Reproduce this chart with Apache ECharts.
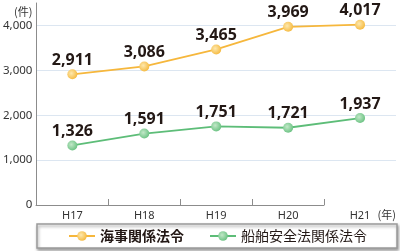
<!DOCTYPE html>
<html>
<head>
<meta charset="utf-8">
<script src="https://cdn.jsdelivr.net/npm/echarts@6/dist/echarts.min.js"></script>
<style>html,body{margin:0;padding:0;background:#fff;}#c{width:400px;height:251px;}</style>
</head>
<body>
<div id="c"></div>
<script>
const categories = ['H17', 'H18', 'H19', 'H20', 'H21'];
const seriesNames = ['海事関係法令', '船舶安全法関係法令'];
const kaijiValues = [2911, 3086, 3465, 3969, 4017];
const senpakuValues = [1326, 1591, 1751, 1721, 1937];
const yTicks = [0, 1000, 2000, 3000, 4000];
const yUnit = '(件)';
const xUnit = '(年)';

const fmt = v => Number(v).toLocaleString('en-US');
const chart = echarts.init(document.getElementById('c'), null, {renderer: 'canvas'});

function grad(inner, outer) {
  return new echarts.graphic.RadialGradient(0.4, 0.4, 0.6, [
    {offset: 0, color: inner}, {offset: 1, color: outer}
  ]);
}

const labelStyle = {
  show: true, position: 'top', distance: 1,
  formatter: p => fmt(p.value),
  fontFamily: 'Noto Sans', fontWeight: 'bold', fontSize: 16, color: '#231815'
};

chart.setOption({
  animation: false,
  backgroundColor: '#fff',
  grid: [
    {left: 36, right: 4, top: 3, bottom: 46},
    {left: 36, right: 76, top: 3, bottom: 46}
  ],
  legend: {
    left: 37, top: 224,
    data: seriesNames,
    itemWidth: 26, itemHeight: 12, itemGap: 25,
    padding: [5, 30, 5, 31],
    borderColor: '#9a9a9a', borderWidth: 1.5,
    backgroundColor: '#fff',
    shadowColor: 'rgba(0,0,0,0.35)', shadowBlur: 3, shadowOffsetX: 1, shadowOffsetY: 2,
    textStyle: {
      fontFamily: 'Noto Sans CJK JP', fontSize: 14, color: '#231815',
      rich: {b: {fontFamily: 'Noto Sans CJK JP', fontSize: 14, fontWeight: 'bold', color: '#231815'}}
    },
    formatter: n => n === seriesNames[0] ? '{b|' + n + '}' : n
  },
  xAxis: [
    {
      type: 'category', gridIndex: 0, data: categories, boundaryGap: true,
      axisLine: {show: false}, axisTick: {show: false},
      axisLabel: {margin: 5, fontFamily: 'Noto Sans', fontSize: 11, color: '#333'},
      name: xUnit, nameLocation: 'end', nameGap: 0,
      nameTextStyle: {align: 'right', verticalAlign: 'top', padding: [4, 0, 0, 0],
        fontFamily: 'Noto Sans CJK JP', fontSize: 11, color: '#333'}
    },
    {
      type: 'category', gridIndex: 1, data: categories.slice(0, 4), boundaryGap: true,
      axisLine: {show: true, lineStyle: {color: '#8c8c8c', width: 1}},
      axisTick: {show: true, inside: true, length: 6, lineStyle: {color: '#8c8c8c'}},
      axisLabel: {show: false}
    }
  ],
  yAxis: [
    {
      type: 'value', gridIndex: 0, min: yTicks[0], max: 4500, interval: 1000,
      axisLine: {show: true, lineStyle: {color: '#8c8c8c', width: 1}},
      axisTick: {show: false},
      axisLabel: {showMaxLabel: false, margin: 4, formatter: v => fmt(v),
        fontFamily: 'Noto Sans', fontSize: 11.5, color: '#333'},
      splitLine: {show: true, showMinLine: false, showMaxLine: false, lineStyle: {color: '#dce6f1', width: 1}},
      name: yUnit, nameLocation: 'end', nameGap: -9,
      nameTextStyle: {align: 'right', verticalAlign: 'middle', padding: [0, 4, 0, 0],
        fontFamily: 'Noto Sans CJK JP', fontSize: 11, color: '#333'}
    },
    {
      type: 'value', gridIndex: 1, min: 0, max: 4500, show: false
    }
  ],
  series: [
    {
      name: seriesNames[0], type: 'line', data: kaijiValues,
      symbol: 'circle', symbolSize: 10,
      lineStyle: {color: '#f6b73c', width: 1.8},
      itemStyle: {color: grad('#fde8ae', '#f6bc45'), borderWidth: 0},
      label: labelStyle
    },
    {
      name: seriesNames[1], type: 'line', data: senpakuValues,
      symbol: 'circle', symbolSize: 10,
      lineStyle: {color: '#5dbd78', width: 1.8},
      itemStyle: {color: grad('#c2e8c8', '#6fc486'), borderWidth: 0},
      label: labelStyle
    }
  ]
});
</script>
</body>
</html>
